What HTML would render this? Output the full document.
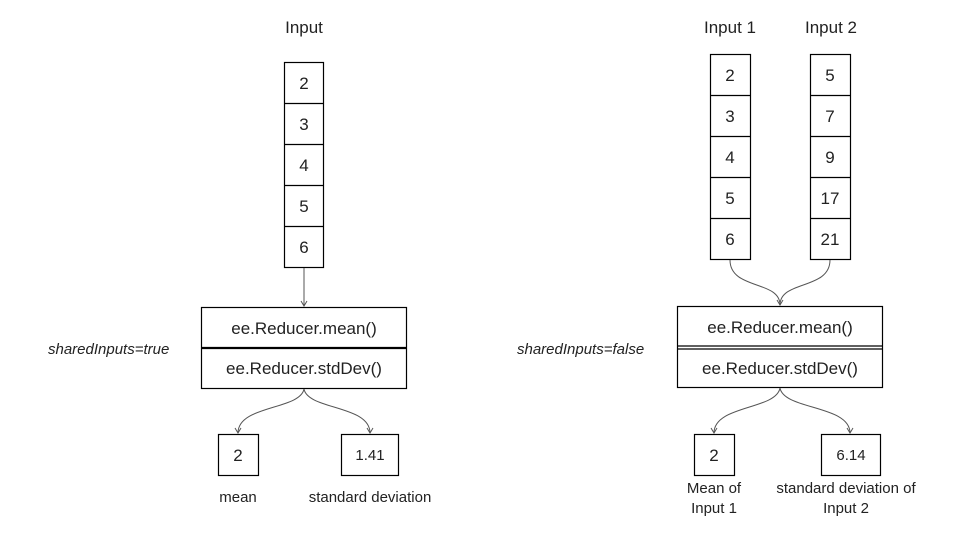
<!DOCTYPE html>
<html><head><meta charset="utf-8"><style>
html,body{margin:0;padding:0;background:#fff;}
svg{display:block;}
text{font-family:"Liberation Sans",sans-serif;fill:#222;}
</style></head><body>
<svg width="960" height="540" viewBox="0 0 960 540">
<defs><marker id="a" markerWidth="8" markerHeight="8" refX="6" refY="4" orient="auto" markerUnits="userSpaceOnUse"><path d="M1,1 L6,4 L1,7" fill="none" stroke="#555" stroke-width="1"/></marker></defs>
<g fill="none" stroke="#000" stroke-width="1.2">
<rect x="284.5" y="62.5" width="39" height="205"/>
<line x1="284" y1="103.5" x2="324" y2="103.5"/><line x1="284" y1="144.5" x2="324" y2="144.5"/><line x1="284" y1="185.5" x2="324" y2="185.5"/><line x1="284" y1="226.5" x2="324" y2="226.5"/>
<rect x="201.5" y="307.5" width="205" height="81"/>
<line x1="201" y1="348" x2="407" y2="348" stroke-width="2.2"/>
<rect x="218.5" y="434.5" width="40" height="41"/>
<rect x="341.5" y="434.5" width="57" height="41"/>
<rect x="710.5" y="54.5" width="40" height="205"/>
<line x1="710" y1="95.5" x2="751" y2="95.5"/><line x1="710" y1="136.5" x2="751" y2="136.5"/><line x1="710" y1="177.5" x2="751" y2="177.5"/><line x1="710" y1="218.5" x2="751" y2="218.5"/>
<rect x="810.5" y="54.5" width="40" height="205"/>
<line x1="810" y1="95.5" x2="851" y2="95.5"/><line x1="810" y1="136.5" x2="851" y2="136.5"/><line x1="810" y1="177.5" x2="851" y2="177.5"/><line x1="810" y1="218.5" x2="851" y2="218.5"/>
<rect x="677.5" y="306.5" width="205" height="81"/>
<line x1="677" y1="346" x2="883" y2="346"/><line x1="677" y1="349" x2="883" y2="349"/>
<rect x="694.5" y="434.5" width="40" height="41"/>
<rect x="821.5" y="434.5" width="59" height="41"/>
</g>
<g fill="none" stroke="#555" stroke-width="1">
<line x1="304" y1="268" x2="304" y2="306" marker-end="url(#a)"/>
<path d="M304,389 C300,410 238,405 238,433" marker-end="url(#a)"/>
<path d="M304,389 C308,410 370,405 370,433" marker-end="url(#a)"/>
<path d="M730,260 C730,290 780,280 780,305" marker-end="url(#a)"/>
<path d="M830,260 C830,290 780,280 780,305"/>
<path d="M780,388 C776,410 714,405 714,433" marker-end="url(#a)"/>
<path d="M780,388 C784,410 850,405 850,433" marker-end="url(#a)"/>
</g>
<g font-size="17" text-anchor="middle">
<text x="304" y="33">Input</text>
<text x="730" y="33">Input 1</text>
<text x="831" y="33">Input 2</text>
<text x="304" y="89">2</text><text x="304" y="130">3</text><text x="304" y="171">4</text><text x="304" y="212">5</text><text x="304" y="253">6</text>
<text x="730" y="81">2</text><text x="730" y="122">3</text><text x="730" y="163">4</text><text x="730" y="204">5</text><text x="730" y="245">6</text>
<text x="830" y="81">5</text><text x="830" y="122">7</text><text x="830" y="163">9</text><text x="830" y="204">17</text><text x="830" y="245">21</text>
<text x="304" y="334">ee.Reducer.mean()</text>
<text x="304" y="374">ee.Reducer.stdDev()</text>
<text x="780" y="333">ee.Reducer.mean()</text>
<text x="780" y="374">ee.Reducer.stdDev()</text>
<text x="238" y="461">2</text>
<text x="714" y="461">2</text>
</g>
<g font-size="15" text-anchor="middle">
<text x="370" y="460">1.41</text>
<text x="851" y="460">6.14</text>
<text x="238" y="502">mean</text>
<text x="370" y="502">standard deviation</text>
<text x="714" y="493">Mean of</text>
<text x="714" y="513">Input 1</text>
<text x="846" y="493">standard deviation of</text>
<text x="846" y="513">Input 2</text>
</g>
<g font-size="15" font-style="italic">
<text x="48" y="354">sharedInputs=true</text>
<text x="517" y="354">sharedInputs=false</text>
</g>
</svg>
</body></html>
